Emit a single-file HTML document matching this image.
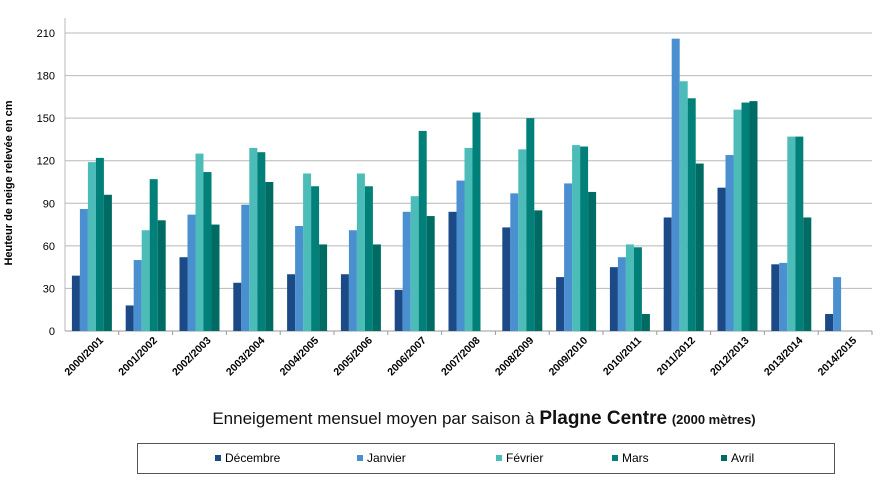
<!DOCTYPE html>
<html><head><meta charset="utf-8"><style>
body{margin:0;background:#fff;width:882px;height:485px;overflow:hidden;font-family:"Liberation Sans","DejaVu Sans",sans-serif;}
</style></head><body>
<svg width="882" height="485" xmlns="http://www.w3.org/2000/svg" font-family="Liberation Sans, DejaVu Sans, sans-serif">
<g id="grid" stroke="#b8b8b8" stroke-width="1"></g>
<g id="bars"></g>
<g id="labels" font-size="11" fill="#000"></g>
<text transform="translate(12,183) rotate(-90)" text-anchor="middle" font-size="11" font-weight="bold">Heuteur de neige relevée en cm</text>
<text x="484" y="424" text-anchor="middle" font-size="17" fill="#111">Enneigement mensuel moyen par saison à <tspan font-weight="bold" font-size="19">Plagne Centre</tspan> <tspan font-weight="bold" font-size="13">(2000 mètres)</tspan></text>
<rect x="137.5" y="443.5" width="697" height="30" fill="#fff" stroke="#555"/>
<g font-size="12" fill="#000">
<rect x="215" y="455" width="6" height="6" fill="#1b4a87"/><text x="225" y="462">Décembre</text>
<rect x="357" y="455" width="6" height="6" fill="#4a8fd0"/><text x="367" y="462">Janvier</text>
<rect x="496" y="455" width="6" height="6" fill="#4bbcb8"/><text x="506" y="462">Février</text>
<rect x="612" y="455" width="6" height="6" fill="#008078"/><text x="622" y="462">Mars</text>
<rect x="721" y="455" width="6" height="6" fill="#006b63"/><text x="731" y="462">Avril</text>
</g>
</svg>
<script>
const ns="http://www.w3.org/2000/svg";
const x0=65,x1=872,y0=331,yt=33,gw=(x1-x0)/15,sc=(y0-yt)/210;
const g=document.getElementById("grid"),b=document.getElementById("bars"),l=document.getElementById("labels");
function el(p,t,a,txt){const e=document.createElementNS(ns,t);for(const k in a)e.setAttribute(k,a[k]);if(txt)e.textContent=txt;p.appendChild(e);return e;}
for(let v=30;v<=210;v+=30){const y=y0-v*sc;el(g,"line",{x1:x0,x2:x1,y1:y,y2:y});}
for(let v=0;v<=210;v+=30){el(l,"text",{x:55,y:y0-v*sc+4,"text-anchor":"end"},String(v));}
el(g,"line",{x1:x0,x2:x0,y1:18,y2:y0});
el(g,"line",{x1:x0,x2:x1,y1:y0,y2:y0,stroke:"#999"});
const cols=["#1b4a87","#4a8fd0","#4bbcb8","#008078","#006b63"];
const d=[[39,86,119,122,96],[18,50,71,107,78],[52,82,125,112,75],[34,89,129,126,105],[40,74,111,102,61],[40,71,111,102,61],[29,84,95,141,81],[84,106,129,154,0],[73,97,128,150,85],[38,104,131,130,98],[45,52,61,59,12],[80,206,176,164,118],[101,124,156,161,162],[47,48,137,137,80],[12,38,0,0,0]];
d.forEach((s,i)=>{const gx=x0+i*gw;el(g,"line",{x1:gx+gw,x2:gx+gw,y1:y0,y2:y0+4,stroke:"#999"});
s.forEach((v,j)=>{if(!v)return;const h=v*sc;el(b,"rect",{x:gx+6.9+j*8,y:y0-h,width:8,height:h,fill:cols[j]});});
const yr=2000+i;const cx=gx+gw/2+12;
el(l,"text",{transform:`translate(${cx},${y0+10}) rotate(-45)`,"text-anchor":"end","font-weight":"bold","font-size":"10.5"},`${yr}/${yr+1}`);});
</script>
</body></html>
